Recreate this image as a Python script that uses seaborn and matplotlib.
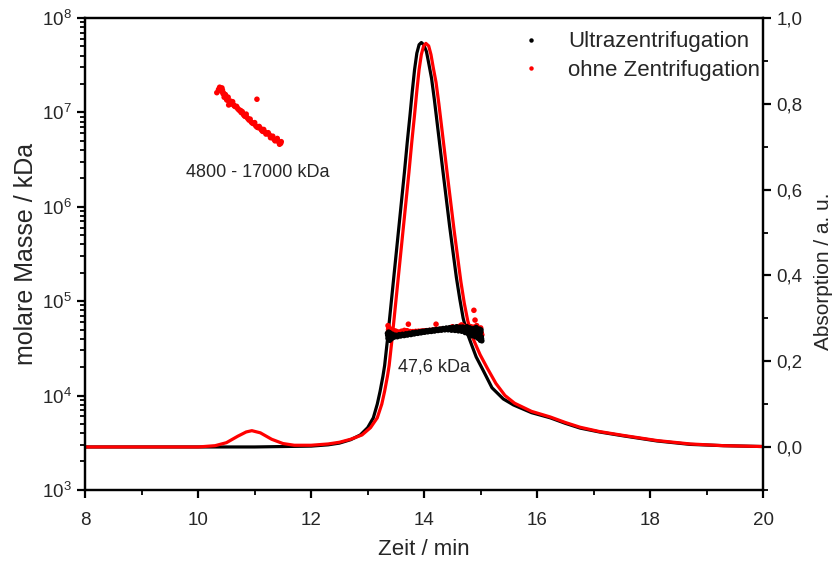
import matplotlib
matplotlib.use("Agg")
import matplotlib.pyplot as plt
import matplotlib.ticker as mticker
import numpy as np
import pandas as pd
import seaborn as sns

# ---------------- data ----------------
series_names = ["Ultrazentrifugation", "ohne Zentrifugation"]
series_colors = ["#000000", "#ff0000"]

# absorption traces (right axis)
abs_black_t = [8.0, 9.0, 10.0, 11.0, 11.5, 12.0, 12.3, 12.5, 12.7, 12.87, 13.0, 13.1, 13.17, 13.22,
               13.27, 13.30, 13.35, 13.40, 13.45, 13.50, 13.55, 13.60, 13.65, 13.70, 13.75, 13.79,
               13.83, 13.87, 13.91, 13.95, 13.99, 14.04, 14.08, 14.13, 14.18, 14.23, 14.28, 14.33,
               14.39, 14.45, 14.51, 14.57, 14.63, 14.69, 14.75, 14.82, 14.92, 15.05, 15.2, 15.4,
               15.58, 15.9, 16.23, 16.5, 16.76, 17.1, 17.52, 18.12, 18.71, 19.3, 20.0]
abs_black_v = [0.0, 0.0, 0.0, 0.0, 0.001, 0.002, 0.005, 0.009, 0.017, 0.028, 0.045, 0.068, 0.10, 0.13,
               0.165, 0.19, 0.25, 0.315, 0.38, 0.445, 0.51, 0.575, 0.64, 0.71, 0.775, 0.83,
               0.88, 0.918, 0.938, 0.943, 0.938, 0.922, 0.895, 0.86, 0.81, 0.755, 0.70, 0.645,
               0.58, 0.515, 0.455, 0.395, 0.345, 0.30, 0.27, 0.245, 0.21, 0.177, 0.138, 0.112,
               0.098, 0.08, 0.068, 0.055, 0.044, 0.035, 0.026, 0.014, 0.006, 0.003, 0.001]

abs_red_t = [8.0, 9.0, 10.0, 10.3, 10.5, 10.7, 10.85, 10.95, 11.1, 11.3, 11.5, 11.7, 12.0, 12.3,
             12.5, 12.7, 12.9, 13.05, 13.17, 13.25, 13.30, 13.35, 13.38, 13.43, 13.48, 13.53,
             13.58, 13.63, 13.68, 13.73, 13.78, 13.83, 13.87, 13.91, 13.95, 13.99, 14.03, 14.08,
             14.12, 14.16, 14.21, 14.26, 14.31, 14.36, 14.41, 14.47, 14.53, 14.59, 14.65, 14.71,
             14.77, 14.83, 14.89, 14.99, 15.12, 15.27, 15.43, 15.6, 15.9, 16.23, 16.5, 16.76,
             17.1, 17.52, 18.12, 18.71, 19.3, 20.0]
abs_red_v = [0.0, 0.0, 0.0, 0.003, 0.01, 0.025, 0.035, 0.038, 0.033, 0.018, 0.008, 0.004, 0.004, 0.007,
             0.011, 0.018, 0.028, 0.045, 0.068, 0.10, 0.13, 0.165, 0.19, 0.25, 0.315, 0.38,
             0.445, 0.51, 0.575, 0.64, 0.71, 0.775, 0.83, 0.88, 0.915, 0.935, 0.941, 0.935,
             0.915, 0.885, 0.85, 0.80, 0.745, 0.69, 0.635, 0.57, 0.505, 0.445, 0.385, 0.335,
             0.295, 0.265, 0.245, 0.215, 0.183, 0.148, 0.12, 0.102, 0.083, 0.07, 0.057, 0.046,
             0.036, 0.027, 0.015, 0.007, 0.003, 0.001]

# molar mass (left axis, kDa)
mass_black_t = [13.35, 13.36, 13.37, 13.38, 13.39, 13.40, 13.41, 13.43, 13.45, 13.48, 13.51, 13.54,
                13.57, 13.60, 13.63, 13.66, 13.69, 13.72, 13.75, 13.78, 13.81, 13.84, 13.87, 13.90,
                13.93, 13.96, 13.99, 14.02, 14.05, 14.08, 14.11, 14.14, 14.17, 14.20, 14.23, 14.26,
                14.29, 14.32, 14.35, 14.38, 14.41, 14.44, 14.47, 14.50, 14.53, 14.56, 14.59, 14.62,
                14.65, 14.68, 14.71, 14.74, 14.77, 14.80, 14.82, 14.84, 14.86, 14.88, 14.90, 14.92,
                14.94, 14.96, 14.97, 14.98, 14.99, 15.00, 15.01, 15.02,
                13.355, 13.375, 13.395, 13.42, 13.44, 13.465, 13.495, 13.525, 13.555, 13.585,
                13.615, 13.645, 13.675, 13.705, 13.735, 13.765, 13.795, 13.825, 13.855, 13.885,
                13.915, 13.945, 13.975, 14.005, 14.035, 14.065, 14.095, 14.125, 14.155, 14.185,
                14.215, 14.245, 14.275, 14.305, 14.335, 14.365, 14.395, 14.425, 14.455, 14.485,
                14.515, 14.545, 14.575, 14.605, 14.635, 14.665, 14.695, 14.725, 14.755, 14.785,
                14.815, 14.845, 14.875, 14.905, 14.935, 14.955, 14.975, 14.995, 15.005, 15.015]
mass_black_m = [45500, 40500, 47000, 42000, 38500, 44500, 41500, 43000, 42000, 42500, 42800, 43000,
                43300, 43500, 43800, 44000, 44300, 44500, 44900, 45200, 45500, 45800, 46100, 46400,
                46700, 47000, 47300, 47500, 47800, 48100, 48400, 48600, 48900, 49200, 49400, 49700,
                50000, 50200, 50500, 51200, 50300, 51500, 50100, 51800, 50400, 52500, 49800, 51500,
                50200, 53000, 49000, 51000, 47500, 52000, 46500, 50500, 44500, 49500, 47000, 52500,
                43000, 48000, 41000, 45500, 39500, 47000, 42000, 38000,
                43500, 39500, 46000, 40000, 44500, 41500, 43500, 42000, 44000, 42800,
                44500, 43200, 45000, 43800, 45600, 44300, 46200, 45000, 46800, 45600,
                47300, 46200, 47900, 46900, 48500, 47400, 49000, 47800, 49500, 48300,
                50000, 48900, 50600, 49300, 51200, 49700, 51800, 49800, 52300, 49300,
                52800, 49000, 53500, 48500, 53000, 48000, 52500, 46500, 53500, 45000,
                51500, 43000, 51000, 42000, 49000, 40500, 50500, 38500, 49500, 40000]

mass_red_t = [10.33, 10.40, 10.42, 10.44, 10.46, 10.48, 10.50, 10.52, 10.54, 10.57, 10.60, 10.63,
              10.66, 10.70, 10.73, 10.76, 10.80, 10.83, 10.86, 10.90, 10.94, 10.98, 11.02, 11.04,
              11.06, 11.10, 11.14, 11.18, 11.22, 11.26, 11.30, 11.34, 11.38, 11.42, 11.46,
              10.36, 10.38, 10.41, 10.43, 10.45, 10.47, 10.49, 10.51, 10.53, 10.55, 10.58, 10.61,
              10.64, 10.68, 10.71, 10.75, 10.78, 10.82, 10.85, 10.88, 10.92, 10.96, 11.00, 11.04,
              11.08, 11.12, 11.16, 11.20, 11.24, 11.28, 11.32, 11.36, 11.40, 11.44, 11.47,
              13.36, 13.37, 13.38, 13.39, 13.40, 13.42, 13.44, 13.46, 13.49, 13.52, 13.55, 13.58,
              13.62, 13.66, 13.70, 13.72, 13.75, 13.80, 13.85, 13.90, 13.95, 14.00, 14.05, 14.10,
              14.15, 14.20, 14.21, 14.25, 14.30, 14.35, 14.40, 14.45, 14.50, 14.55, 14.60, 14.65,
              14.70, 14.74, 14.78, 14.82, 14.85, 14.88, 14.88, 14.90, 14.92, 14.95, 14.97, 15.00,
              15.02,
              13.37, 13.41, 13.43, 13.47, 13.50, 13.60, 13.65, 13.68, 14.50, 14.62, 14.66, 14.72,
              14.80, 14.83, 14.86, 14.93, 14.96, 14.99, 15.01]
mass_red_m = [16.2e6, 17.8e6, 18.2e6, 15.8e6, 14.5e6, 15.5e6, 13.8e6, 14.1e6, 12.0e6, 13.2e6, 12.6e6, 12.0e6,
              11.5e6, 11.0e6, 10.5e6, 10.0e6, 9.5e6, 9.1e6, 8.9e6, 8.3e6, 7.9e6, 7.6e6, 7.2e6, 13.8e6,
              6.9e6, 6.8e6, 6.3e6, 6.2e6, 6.0e6, 5.8e6, 5.5e6, 5.2e6, 5.1e6, 4.9e6, 4.7e6,
              17.5e6, 18.5e6, 16.8e6, 17.2e6, 16.0e6, 14.8e6, 15.0e6, 13.5e6, 14.5e6, 13.0e6, 12.3e6, 13.0e6,
              11.7e6, 11.6e6, 10.8e6, 10.5e6, 10.2e6, 9.2e6, 9.6e6, 8.6e6, 8.5e6, 7.7e6, 7.8e6, 7.0e6,
              7.1e6, 6.5e6, 6.6e6, 5.9e6, 6.1e6, 5.4e6, 5.6e6, 5.0e6, 5.3e6, 4.6e6, 4.9e6,
              55000, 48000, 52000, 45000, 50000, 47000, 46000, 47500, 46500, 46800, 47000, 46500,
              47000, 47200, 48500, 57000, 47600, 47500, 47800, 48000, 48200, 48500, 48700, 49000,
              49300, 49600, 57000, 50000, 50300, 50600, 51000, 51500, 51800, 52000, 53000, 51500,
              54000, 50000, 55000, 49000, 52000, 80000, 53000, 63000, 48000, 50000, 46000, 52000,
              44000,
              50000, 49000, 48000, 48500, 48000, 48000, 49000, 48500, 53500, 54000, 56000, 52000,
              50000, 53500, 48000, 55000, 47000, 49000, 46000]

x_ticks = [8, 10, 12, 14, 16, 18, 20]
left_ticks = [1e3, 1e4, 1e5, 1e6, 1e7, 1e8]
right_ticks = [0.0, 0.2, 0.4, 0.6, 0.8, 1.0]

annotations = [("4800 - 17000 kDa", 11.06, 2.3e6), ("47,6 kDa", 14.17, 2.0e4)]

# ---------------- tables ----------------
abs_df = pd.concat([
    pd.DataFrame({"t": abs_black_t, "A": abs_black_v, "Probe": series_names[0]}),
    pd.DataFrame({"t": abs_red_t, "A": abs_red_v, "Probe": series_names[1]}),
], ignore_index=True)
# red rows first so the black points are drawn on top
mass_df = pd.concat([
    pd.DataFrame({"t": mass_red_t, "M": mass_red_m, "Probe": series_names[1]}),
    pd.DataFrame({"t": mass_black_t, "M": mass_black_m, "Probe": series_names[0]}),
], ignore_index=True)
palette = dict(zip(series_names, series_colors))

# ---------------- plot ----------------
sns.set_style("ticks")
plt.rcParams["font.family"] = ["Liberation Sans", "DejaVu Sans"]
plt.rcParams["axes.linewidth"] = 1.6

fig = plt.figure(figsize=(8.35, 5.65), dpi=100)
ax = fig.add_axes([0.102, 0.133, 0.812, 0.835])
ax2 = ax.twinx()

sns.lineplot(data=abs_df, x="t", y="A", hue="Probe", hue_order=series_names, palette=palette,
             sort=False, estimator=None, linewidth=2.3, legend=False, ax=ax2)
sns.scatterplot(data=mass_df, x="t", y="M", hue="Probe", hue_order=series_names, palette=palette,
                s=16, linewidth=0, ax=ax, zorder=5)

ax.set_zorder(ax2.get_zorder() + 1)
ax.patch.set_visible(False)

ax.set_yscale("log")
ax.set_ylim(1e3, 1e8)
ax.set_xlim(8, 20)
ax2.set_ylim(-0.1, 1.0)

ax.set_xticks(x_ticks)
ax.set_xticklabels([str(v) for v in x_ticks])
ax.xaxis.set_minor_locator(mticker.MultipleLocator(1))
ax.set_yticks(left_ticks)
ax.set_yticklabels([r"$\mathregular{10^{%d}}$" % int(round(np.log10(v))) for v in left_ticks])
ax.yaxis.set_minor_locator(mticker.LogLocator(base=10, subs=np.arange(2, 10), numticks=20))
ax.yaxis.set_minor_formatter(mticker.NullFormatter())

ax2.set_yticks(right_ticks)
ax2.set_yticklabels([("%.1f" % v).replace(".", ",") for v in right_ticks])
ax2.yaxis.set_minor_locator(mticker.FixedLocator([-0.1, 0.1, 0.3, 0.5, 0.7, 0.9]))

for a in (ax, ax2):
    a.tick_params(which="major", direction="out", length=6, width=1.6, labelsize=13.5, color="black")
    a.tick_params(which="minor", direction="out", length=3.5, width=1.3, color="black")
    for sp in a.spines.values():
        sp.set_visible(True)
        sp.set_linewidth(1.6)
        sp.set_color("black")
ax.tick_params(top=False, which="both")
ax2.tick_params(top=False, which="both")
ax.tick_params(axis="x", which="major", pad=10)

ax.set_xlabel("Zeit / min", fontsize=16, labelpad=7)
ax.set_ylabel("molare Masse / kDa", fontsize=18, labelpad=3)
ax2.set_ylabel("Absorption / a. u.", fontsize=15, labelpad=8)
ax2.yaxis.label.set_y(0.464)

for txt, tx, ty in annotations:
    ax.text(tx, ty, txt, fontsize=13, ha="center", va="center", zorder=6)

leg = ax.legend(loc="upper right", bbox_to_anchor=(1.015, 1.0), frameon=False, fontsize=16,
                handletextpad=0.9, markerscale=0.8, borderaxespad=0.2, labelspacing=0.35,
                handlelength=1.5)

fig.savefig("out.png", dpi=100)
